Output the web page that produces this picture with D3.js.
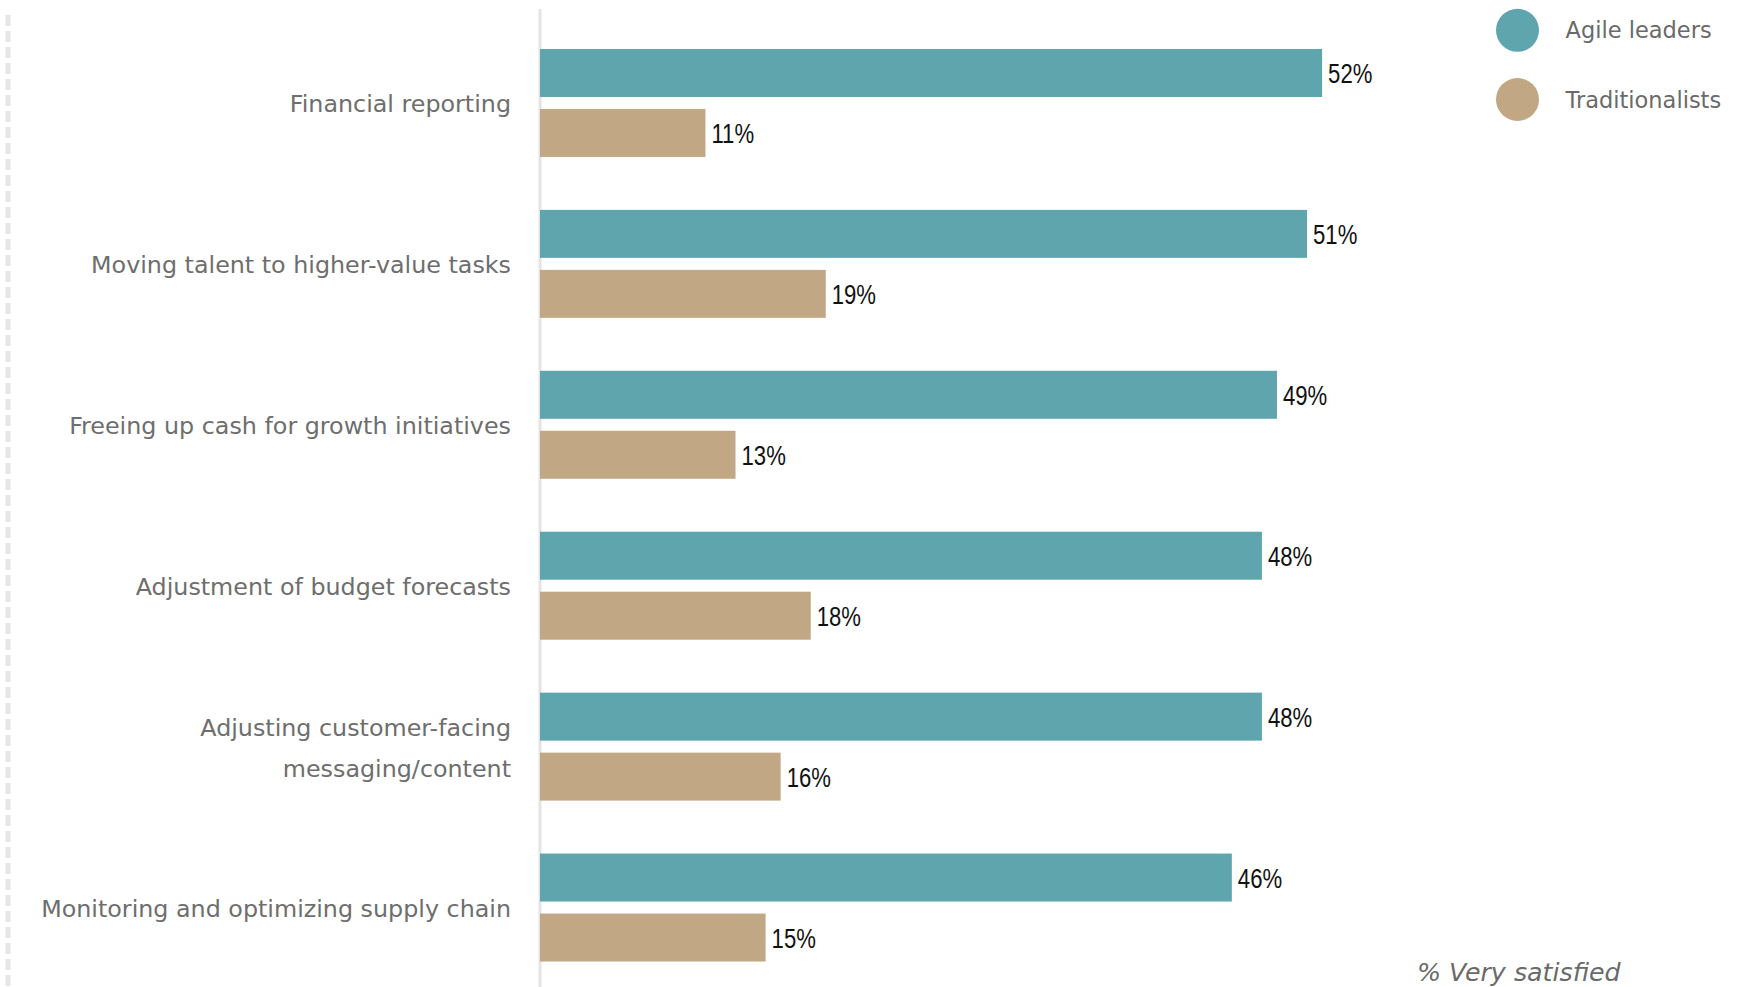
<!DOCTYPE html>
<html>
<head>
<meta charset="utf-8">
<script src="https://cdn.jsdelivr.net/npm/d3@7"></script>
<style>
  html, body { margin: 0; padding: 0; background: #ffffff; }
  svg { display: block; }
</style>
</head>
<body>
<div id="chart"></div>
<script>
// Finance capabilities: share of respondents "very satisfied", by group
const categories = [
  "Financial reporting",
  "Moving talent to higher-value tasks",
  "Freeing up cash for growth initiatives",
  "Adjustment of budget forecasts",
  "Adjusting customer-facing\nmessaging/content",
  "Monitoring and optimizing supply chain"
];
const seriesNames = ["Agile leaders", "Traditionalists"];
const agileLeaders = [52, 51, 49, 48, 48, 46];
const traditionalists = [11, 19, 13, 18, 16, 15];
const seriesColors = ["#5ea5ae", "#c1a784"];
const axisNote = "% Very satisfied";

const W = 1760, H = 987;
const svg = d3.select("#chart").append("svg")
  .attr("width", W).attr("height", H);

const rows = categories.map((c, i) => ({
  category: c,
  values: [agileLeaders[i], traditionalists[i]]
}));

const x = d3.scaleLinear().domain([0, 100]).range([540, 2044]);
const y = d3.scaleBand().domain(categories).range([22.5, 988])
  .paddingInner(0.329).paddingOuter(0.1645);
const ySub = d3.scaleBand().domain(seriesNames).range([0, y.bandwidth()])
  .paddingInner(0.2);
const color = d3.scaleOrdinal().domain(seriesNames).range(seriesColors);

// dashed frame rule at the far left
svg.append("line")
  .attr("x1", 8).attr("x2", 8).attr("y1", 15).attr("y2", H)
  .attr("stroke", "#e6e6e6").attr("stroke-width", 5)
  .attr("stroke-dasharray", "11,5");

// baseline of the bars
svg.append("line")
  .attr("x1", x(0)).attr("x2", x(0)).attr("y1", 9).attr("y2", H)
  .attr("stroke", "#e4e4e4").attr("stroke-width", 3);

const groups = svg.append("g").selectAll("g")
  .data(rows).join("g")
  .attr("transform", d => `translate(0,${y(d.category)})`);

const bars = groups.selectAll("g.bar")
  .data(d => d.values.map((v, j) => ({ series: seriesNames[j], value: v })))
  .join("g").attr("class", "bar");

bars.append("rect")
  .attr("x", x(0))
  .attr("y", d => ySub(d.series))
  .attr("width", d => x(d.value) - x(0))
  .attr("height", ySub.bandwidth())
  .attr("fill", d => color(d.series));

// value labels in a narrow face
bars.append("text")
  .attr("transform", d =>
    `translate(${x(d.value) + 6},${ySub(d.series) + ySub.bandwidth() / 2 + 10}) scale(0.82,1)`)
  .attr("font-family", "'Liberation Sans', Arial, sans-serif")
  .attr("font-size", 27)
  .attr("fill", "#111111")
  .text(d => d.value + "%");

// category labels (may span two lines)
const lineGap = 41;
groups.append("text")
  .attr("text-anchor", "end")
  .attr("font-family", "'DejaVu Sans', sans-serif")
  .attr("font-size", 23.8)
  .attr("fill", "#6e6e6e")
  .each(function (d) {
    const lines = d.category.split("\n");
    const mid = y.bandwidth() / 2;
    const first = mid - (lines.length - 1) * lineGap / 2 + 9.5;
    d3.select(this).selectAll("tspan")
      .data(lines).join("tspan")
      .attr("x", 511)
      .attr("y", (l, k) => first + k * lineGap)
      .text(l => l);
  });

// legend
const legend = svg.append("g").selectAll("g")
  .data(seriesNames).join("g")
  .attr("transform", (d, i) => `translate(1517.5,${30.3 + i * 69.2})`);
legend.append("circle").attr("r", 21.5).attr("fill", d => color(d));
legend.append("text")
  .attr("x", 48).attr("y", 8)
  .attr("font-family", "'DejaVu Sans', sans-serif")
  .attr("font-size", 22.5)
  .attr("fill", "#6a6a6a")
  .text(d => d);

// measure note
svg.append("text")
  .attr("x", 1417).attr("y", 980.5)
  .attr("font-family", "'DejaVu Sans', sans-serif")
  .attr("font-style", "italic")
  .attr("font-size", 25.3)
  .attr("fill", "#6a6a6a")
  .text(axisNote);
</script>
</body>
</html>
